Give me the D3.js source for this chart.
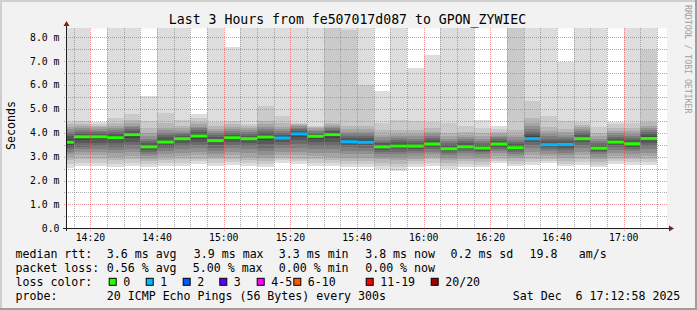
<!DOCTYPE html>
<html>
<head>
<meta charset="utf-8">
<script src="https://cdn.jsdelivr.net/npm/d3@7"></script>
<style>
body { margin: 0; background: #f2f2f2; }
text { font-family: "DejaVu Sans Mono", monospace; fill: #000; white-space: pre; }
</style>
</head>
<body>
<div id="viz"></div>
<script>
/* global d3 */

var w = 697
var h = 310

// time window of the graph and the end time of every 5 minute step
var windowStart = "14:12:58"
var windowEnd = "17:12:58"
var stepEnds = ["14:15","14:20","14:25","14:30","14:35","14:40","14:45","14:50","14:55","15:00",
  "15:05","15:10","15:15","15:20","15:25","15:30","15:35","15:40","15:45","15:50","15:55","16:00",
  "16:05","16:10","16:15","16:20","16:25","16:30","16:35","16:40","16:45","16:50","16:55","17:00",
  "17:05","17:10"]

// median rtt (ms) for every step
var medians = [3.60, 3.83, 3.83, 3.79, 3.92, 3.41, 3.61, 3.75, 3.86, 3.67, 3.79, 3.75, 3.82, 3.78,
  3.95, 3.85, 3.92, 3.62, 3.60, 3.41, 3.44, 3.44, 3.53, 3.33, 3.41, 3.36, 3.53, 3.37, 3.75, 3.50,
  3.51, 3.75, 3.35, 3.61, 3.54, 3.76]

// lost pings (of 20) for every step
var losses = [0,0,0,0,0,0,0,0,0,0,0,0,0,1,1,0,0,1,1,0,0,0,0,0,0,0,0,0,1,1,1,0,0,0,0,0]

// the 20 sorted ping times (ms) of every step, values above the top are cut off
var pings = [
  [2.52,2.70,2.85,3.00,3.10,3.20,3.30,3.40,3.50,3.58,3.62,3.75,3.85,3.95,4.05,4.15,4.25,4.35,4.45,9.90],
  [2.60,2.75,2.90,3.05,3.20,3.30,3.42,3.55,3.70,3.81,3.85,3.90,3.96,4.03,4.10,4.18,4.26,4.35,4.50,9.90],
  [2.62,2.75,2.90,3.05,3.20,3.32,3.45,3.58,3.72,3.81,3.85,3.90,3.95,4.02,4.08,4.15,4.22,4.30,4.38,4.45],
  [2.58,2.70,2.85,3.00,3.15,3.28,3.40,3.55,3.68,3.77,3.81,3.88,3.95,4.02,4.10,4.20,4.30,4.42,4.60,9.90],
  [2.60,2.72,2.88,3.02,3.18,3.32,3.48,3.62,3.78,3.90,3.94,4.00,4.08,4.15,4.22,4.30,4.40,4.55,4.80,9.90],
  [2.58,2.70,2.82,2.92,3.02,3.12,3.20,3.28,3.35,3.40,3.42,3.48,3.55,3.65,3.75,3.88,4.00,4.20,4.50,5.52],
  [2.60,2.72,2.85,2.98,3.10,3.22,3.35,3.45,3.55,3.60,3.62,3.70,3.80,3.90,4.00,4.10,4.20,4.40,4.84,9.90],
  [2.62,2.75,2.88,3.02,3.15,3.30,3.45,3.58,3.68,3.74,3.76,3.80,3.86,3.93,4.00,4.08,4.18,4.30,4.53,9.90],
  [2.70,2.80,2.92,3.05,3.20,3.35,3.50,3.62,3.75,3.84,3.88,3.95,4.02,4.10,4.18,4.25,4.35,4.45,4.60,4.80],
  [2.62,2.75,2.88,3.00,3.12,3.25,3.38,3.50,3.60,3.66,3.68,3.75,3.82,3.90,3.98,4.06,4.15,4.28,4.46,9.90],
  [2.65,2.78,2.90,3.05,3.20,3.35,3.48,3.60,3.70,3.78,3.80,3.86,3.92,4.00,4.08,4.16,4.25,4.36,4.50,7.60],
  [2.60,2.72,2.85,3.00,3.15,3.30,3.45,3.58,3.68,3.74,3.76,3.82,3.88,3.95,4.02,4.10,4.18,4.28,4.38,9.90],
  [2.58,2.70,2.82,2.95,3.08,3.22,3.38,3.52,3.68,3.80,3.84,3.92,4.00,4.08,4.16,4.25,4.35,4.50,5.13,9.90],
  [2.75,2.85,2.95,3.08,3.20,3.35,3.50,3.62,3.72,3.77,3.79,3.85,3.92,4.00,4.08,4.16,4.25,4.40,4.70,9.90],
  [2.70,2.80,2.92,3.05,3.20,3.35,3.52,3.68,3.82,3.93,3.97,4.02,4.08,4.14,4.20,4.26,4.32,4.38,4.42,9.90],
  [2.62,2.75,2.88,3.02,3.15,3.30,3.45,3.60,3.75,3.84,3.86,3.90,3.95,4.00,4.06,4.12,4.18,4.24,4.30,9.90],
  [2.60,2.72,2.85,3.00,3.15,3.30,3.45,3.62,3.78,3.90,3.94,4.00,4.06,4.12,4.18,4.25,4.32,4.40,9.90,9.90],
  [2.55,2.68,2.80,2.95,3.10,3.25,3.40,3.50,3.58,3.61,3.63,3.70,3.78,3.86,3.95,4.05,4.15,4.30,8.30,9.90],
  [2.55,2.68,2.80,2.95,3.10,3.25,3.38,3.48,3.56,3.59,3.61,3.68,3.76,3.85,3.95,4.05,4.15,4.30,6.00,9.90],
  [2.50,2.62,2.75,2.88,3.00,3.10,3.20,3.28,3.35,3.40,3.42,3.48,3.55,3.62,3.70,3.80,3.92,4.10,4.40,5.75],
  [2.40,2.55,2.70,2.85,2.98,3.10,3.20,3.30,3.38,3.43,3.45,3.52,3.60,3.68,3.76,3.85,3.96,4.10,4.55,9.90],
  [2.55,2.68,2.80,2.92,3.04,3.15,3.25,3.33,3.40,3.43,3.45,3.50,3.58,3.66,3.75,3.85,3.95,4.10,4.50,6.70],
  [2.62,2.75,2.88,3.00,3.10,3.20,3.30,3.40,3.48,3.52,3.54,3.60,3.68,3.76,3.85,3.95,4.05,4.20,4.45,7.25],
  [2.50,2.62,2.75,2.86,2.96,3.06,3.15,3.22,3.28,3.32,3.34,3.40,3.48,3.56,3.65,3.75,3.86,4.00,4.40,9.90],
  [2.55,2.68,2.80,2.92,3.03,3.13,3.22,3.30,3.36,3.40,3.42,3.48,3.56,3.64,3.72,3.82,3.92,4.05,4.30,9.90],
  [2.55,2.66,2.78,2.90,3.00,3.10,3.18,3.25,3.31,3.35,3.37,3.43,3.50,3.58,3.66,3.75,3.85,3.98,4.20,4.53],
  [2.72,2.82,2.92,3.03,3.13,3.23,3.32,3.40,3.47,3.52,3.54,3.60,3.66,3.72,3.80,3.88,3.96,4.05,4.15,4.27],
  [2.60,2.70,2.82,2.93,3.03,3.12,3.20,3.27,3.33,3.36,3.38,3.44,3.52,3.60,3.70,3.80,3.92,4.10,9.90,9.90],
  [2.65,2.78,2.90,3.05,3.20,3.35,3.48,3.60,3.70,3.74,3.76,3.85,3.95,4.05,4.15,4.28,4.42,4.60,5.32,9.90],
  [2.72,2.82,2.92,3.02,3.12,3.22,3.32,3.40,3.46,3.49,3.51,3.58,3.66,3.75,3.85,3.95,4.08,4.25,4.69,9.90],
  [2.60,2.70,2.82,2.94,3.05,3.16,3.26,3.35,3.45,3.50,3.52,3.58,3.66,3.74,3.83,3.92,4.02,4.15,4.50,6.97],
  [2.65,2.78,2.90,3.05,3.20,3.35,3.48,3.60,3.70,3.74,3.76,3.82,3.90,3.98,4.06,4.14,4.22,4.32,4.46,9.90],
  [2.55,2.66,2.78,2.90,3.00,3.10,3.18,3.25,3.31,3.34,3.36,3.42,3.50,3.58,3.66,3.75,3.85,4.00,4.25,9.90],
  [2.70,2.80,2.92,3.04,3.16,3.28,3.40,3.50,3.57,3.60,3.62,3.68,3.75,3.82,3.90,3.98,4.08,4.20,4.35,4.46],
  [2.65,2.76,2.88,3.00,3.12,3.23,3.33,3.42,3.50,3.53,3.55,3.62,3.70,3.78,3.87,3.96,4.06,4.20,4.39,9.90],
  [2.65,2.78,2.90,3.02,3.15,3.30,3.45,3.58,3.70,3.75,3.77,3.85,3.93,4.02,4.10,4.20,4.30,4.45,7.46,9.90]
]

var yTicks = [0, 1, 2, 3, 4, 5, 6, 7, 8]

// legend texts
var rttLegend = ["3.6 ms avg", "3.9 ms max", "3.3 ms min", "3.8 ms now", "0.2 ms sd", "19.8", "am/s"]
var lossLegend = ["0.56 % avg", "5.00 % max", "0.00 % min", "0.00 % now"]
var lossLabels = ["0", "1", "2", "3", "4-5", "6-10", "11-19", "20/20"]
var lossColors = ["#26ff00", "#00b8ff", "#0059ff", "#5e00ff", "#ff00ff", "#ff5500", "#ff0000", "#a10000"]
var probeText = "20 ICMP Echo Pings (56 Bytes) every 300s"
var dateText = "Sat Dec  6 17:12:58 2025"
var title = "Last 3 Hours from fe507017d087 to GPON_ZYWIEC"

// layout
var rttX = [106.8, 193.8, 278.8, 365.2, 450.5, 529.5, 578.8]
var lossX = [106.8, 192.8, 278.8, 365.2]
var boxX = [108.7, 145.7, 182.7, 219.3, 256.7, 293.3, 365.7, 430.7]
var lineY = [258, 271.8, 285.8, 299.5]

var parseT = d3.timeParse("%Y-%m-%d %H:%M:%S")
var day = "2025-12-06 "
var t0 = parseT(day + windowStart)
var t1 = parseT(day + windowEnd)

var x = d3.scaleTime().domain([t0, t1]).range([67, 667])
var y = d3.scaleLinear().domain([0, 200 / 23.9]).range([228.3, 28.3]).clamp(true)

var svg = d3.select("#viz").append("svg")
  .attr("width", w)
  .attr("height", h)

// background + 3d frame
svg.append("rect").attr("width", w).attr("height", h).attr("fill", "#f2f2f2")
svg.append("rect").attr("x", 0).attr("y", 0).attr("width", w).attr("height", 2).attr("fill", "#cfcfcf")
svg.append("rect").attr("x", 0).attr("y", 0).attr("width", 2).attr("height", h).attr("fill", "#cfcfcf")
svg.append("rect").attr("x", 0).attr("y", h - 2).attr("width", w).attr("height", 2).attr("fill", "#9e9e9e")
svg.append("rect").attr("x", w - 2).attr("y", 0).attr("width", 2).attr("height", h).attr("fill", "#9e9e9e")

// canvas
svg.append("rect")
  .attr("x", 67).attr("y", y.range()[1])
  .attr("width", 600).attr("height", y.range()[0] - y.range()[1])
  .attr("fill", "#fff")

var cols = stepEnds.map((s, i) => {
  var end = parseT(day + s + ":00")
  var start = d3.timeMinute.offset(end, -5)
  if (start < t0) start = t0
  return {start: start, end: end, pings: pings[i], median: medians[i], loss: losses[i]}
})

// smoke: pairs of pings from the outside in, getting darker
var smoke = svg.append("g").attr("shape-rendering", "crispEdges")
cols.forEach(c => {
  for (var ibot = 1; ibot <= 10; ibot++) {
    var col = Math.floor(190 / 10 * (10 - ibot)) + 50
    var top = c.pings[20 - ibot]
    var bot = c.pings[ibot - 1]
    smoke.append("rect")
      .attr("x", x(c.start))
      .attr("width", x(c.end) - x(c.start))
      .attr("y", y(top))
      .attr("height", Math.max(0, y(bot) - y(top)))
      .attr("fill", d3.rgb(col, col, col))
  }
})

function lossColor(n) {
  if (n <= 3) return lossColors[n]
  if (n <= 5) return lossColors[4]
  if (n <= 10) return lossColors[5]
  if (n <= 19) return lossColors[6]
  return lossColors[7]
}

// median lines
svg.append("g").selectAll("line").data(cols)
  .enter()
  .append("line")
  .attr("x1", d => x(d.start))
  .attr("x2", d => x(d.end))
  .attr("y1", d => y(d.median))
  .attr("y2", d => y(d.median))
  .attr("stroke", d => lossColor(d.loss))
  .attr("stroke-width", 3)

// grid on top of the graph
var grid = svg.append("g").attr("shape-rendering", "crispEdges").attr("stroke-dasharray", "1,1")
var minorColor = "rgba(143,143,143,0.75)"
var majorColor = "rgba(222,79,79,0.6)"
var halfTicks = d3.range(1, 17).map(i => i / 2).filter(v => v % 1 !== 0)

grid.selectAll(".hmin").data(halfTicks).enter().append("line")
  .attr("x1", 64).attr("x2", 668)
  .attr("y1", d => Math.round(y(d)) + 0.5).attr("y2", d => Math.round(y(d)) + 0.5)
  .attr("stroke", minorColor)
grid.selectAll(".hmaj").data(yTicks.filter(v => v > 0)).enter().append("line")
  .attr("x1", 64).attr("x2", 668)
  .attr("y1", d => Math.round(y(d)) + 0.5).attr("y2", d => Math.round(y(d)) + 0.5)
  .attr("stroke", majorColor)

var minorTimes = x.ticks(d3.timeMinute.every(5)).filter(t => t.getMinutes() % 20 !== 0)
var majorTimes = x.ticks(d3.timeMinute.every(20))
grid.selectAll(".vmin").data(minorTimes).enter().append("line")
  .attr("x1", d => Math.round(x(d)) + 0.5).attr("x2", d => Math.round(x(d)) + 0.5)
  .attr("y1", 28).attr("y2", 230)
  .attr("stroke", minorColor)
grid.selectAll(".vmaj").data(majorTimes).enter().append("line")
  .attr("x1", d => Math.round(x(d)) + 0.5).attr("x2", d => Math.round(x(d)) + 0.5)
  .attr("y1", 28).attr("y2", 231)
  .attr("stroke", majorColor)

// axes lines and arrows
var axisCol = "#1f1f1f"
var arrowCol = "#801f1f"
svg.append("line").attr("x1", 66.5).attr("x2", 66.5).attr("y1", 231).attr("y2", 24)
  .attr("stroke", axisCol).attr("shape-rendering", "crispEdges")
svg.append("line").attr("x1", 63).attr("x2", 670).attr("y1", 228.5).attr("y2", 228.5)
  .attr("stroke", axisCol).attr("shape-rendering", "crispEdges")
svg.append("path").attr("d", "M63.5,26L66.5,21L69.5,26Z").attr("fill", arrowCol)
svg.append("path").attr("d", "M669,225.5L674,228.5L669,231.5Z").attr("fill", arrowCol)

// tick labels
svg.append("g").selectAll("text").data(yTicks).enter().append("text")
  .attr("x", 59.5)
  .attr("y", d => y(d) + 3.5)
  .attr("text-anchor", "end")
  .style("font-size", "9.8px")
  .text(d => d === 0 ? "0.0" : d3.format(".1f")(d) + " m")

svg.append("g").selectAll("text").data(majorTimes).enter().append("text")
  .attr("x", d => x(d))
  .attr("y", 240.5)
  .attr("text-anchor", "middle")
  .style("font-size", "9.8px")
  .text(d3.timeFormat("%H:%M"))

// title and side labels
svg.append("text").attr("x", 347.5).attr("y", 24).attr("text-anchor", "middle")
  .style("font-size", "13.2px").text(title)
svg.append("text").attr("transform", "translate(15,125.5) rotate(-90)")
  .attr("text-anchor", "middle").style("font-size", "11.6px").text("Seconds")
svg.append("text").attr("transform", "translate(685,5) rotate(90)")
  .style("font-size", "8.2px").style("fill", "#a0a0a0").text("RRDTOOL / TOBI OETIKER")

// legend
var leg = svg.append("g").style("font-size", "11.6px")
leg.append("text").attr("x", 15.5).attr("y", lineY[0]).text("median rtt:")
rttLegend.forEach((s, i) => leg.append("text").attr("x", rttX[i]).attr("y", lineY[0]).text(s))
leg.append("text").attr("x", 15.5).attr("y", lineY[1]).text("packet loss:")
lossLegend.forEach((s, i) => leg.append("text").attr("x", lossX[i]).attr("y", lineY[1]).text(s))
leg.append("text").attr("x", 15.5).attr("y", lineY[2]).text("loss color:")
lossLabels.forEach((s, i) => {
  leg.append("rect")
    .attr("x", boxX[i] + 0.5).attr("y", lineY[2] - 7.5)
    .attr("width", 7).attr("height", 7)
    .attr("fill", lossColors[i]).attr("stroke", "#000").attr("stroke-width", 1)
  leg.append("text").attr("x", boxX[i] + 14.5).attr("y", lineY[2]).text(s)
})
leg.append("text").attr("x", 15.5).attr("y", lineY[3]).text("probe:")
leg.append("text").attr("x", 106.8).attr("y", lineY[3]).text(probeText)
leg.append("text").attr("x", 512.8).attr("y", lineY[3]).text(dateText)
</script>
</body>
</html>
